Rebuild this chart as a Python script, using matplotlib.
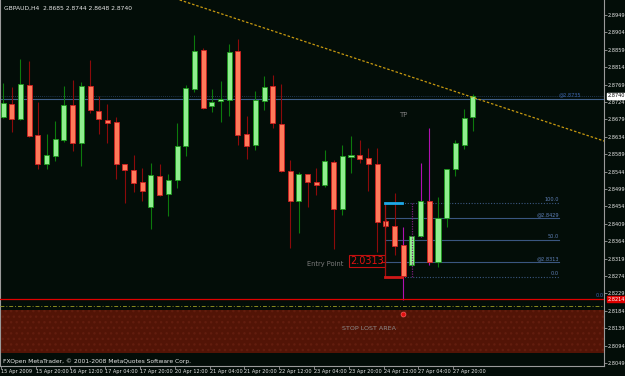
import numpy as np
import matplotlib
matplotlib.use("Agg")
from matplotlib import pyplot as plt
from matplotlib import transforms

# GBPAUD H4 bars (15 Apr 2009 -> 28 Apr 2009)
opens = [2.8685, 2.8719, 2.8681, 2.8768, 2.8639, 2.8564, 2.8584, 2.8626, 2.8717, 2.8618,
         2.8766, 2.8700, 2.8677, 2.8671, 2.8563, 2.8549, 2.8516, 2.8452, 2.8533, 2.8487,
         2.8523, 2.8611, 2.8758, 2.8859, 2.8713, 2.8726, 2.8730, 2.8855, 2.8642, 2.8612,
         2.8727, 2.8765, 2.8667, 2.8546, 2.8468, 2.8538, 2.8517, 2.8510, 2.8569, 2.8447,
         2.8582, 2.8587, 2.8579, 2.8563, 2.8415, 2.8403, 2.8354, 2.8302, 2.8378, 2.8469,
         2.8310, 2.8425, 2.8552, 2.8614, 2.8685]
highs = [2.8773, 2.8764, 2.8834, 2.8831, 2.8723, 2.8641, 2.8675, 2.8765, 2.8782, 2.8776,
         2.8832, 2.8740, 2.8718, 2.8685, 2.8564, 2.8587, 2.8553, 2.8565, 2.8564, 2.8537,
         2.8670, 2.8768, 2.8897, 2.8863, 2.8758, 2.8778, 2.8874, 2.8887, 2.8688, 2.8752,
         2.8791, 2.8794, 2.8771, 2.8573, 2.8542, 2.8538, 2.8553, 2.8600, 2.8574, 2.8613,
         2.8636, 2.8626, 2.8604, 2.8604, 2.8421, 2.8488, 2.8401, 2.8377, 2.8566, 2.8657,
         2.8478, 2.8551, 2.8626, 2.8706, 2.8744]
lows = [2.8683, 2.8646, 2.8677, 2.8633, 2.8551, 2.8551, 2.8572, 2.8621, 2.8597, 2.8559,
        2.8696, 2.8640, 2.8619, 2.8526, 2.8462, 2.8492, 2.8468, 2.8396, 2.8481, 2.8430,
        2.8502, 2.8585, 2.8751, 2.8705, 2.8698, 2.8672, 2.8688, 2.8613, 2.8577, 2.8601,
        2.8703, 2.8658, 2.8543, 2.8346, 2.8385, 2.8452, 2.8484, 2.8505, 2.8343, 2.8432,
        2.8541, 2.8565, 2.8495, 2.8337, 2.8401, 2.8327, 2.8212, 2.8300, 2.8376, 2.8302,
        2.8297, 2.8400, 2.8533, 2.8602, 2.8648]
closes = [2.8721, 2.8681, 2.8770, 2.8637, 2.8564, 2.8587, 2.8628, 2.8717, 2.8617, 2.8765,
          2.8703, 2.8679, 2.8669, 2.8563, 2.8549, 2.8515, 2.8495, 2.8534, 2.8484, 2.8521,
          2.8610, 2.8761, 2.8857, 2.8709, 2.8724, 2.8731, 2.8854, 2.8639, 2.8611, 2.8730,
          2.8764, 2.8670, 2.8546, 2.8467, 2.8537, 2.8518, 2.8510, 2.8571, 2.8448, 2.8585,
          2.8587, 2.8577, 2.8563, 2.8414, 2.8404, 2.8352, 2.8274, 2.8377, 2.8468, 2.8311,
          2.8425, 2.8551, 2.8617, 2.8682, 2.8740]
magenta_bars = [46, 48, 49]

date_labels = ["15 Apr 2009", "15 Apr 20:00", "16 Apr 12:00", "17 Apr 04:00", "17 Apr 20:00",
               "20 Apr 12:00", "21 Apr 04:00", "21 Apr 20:00", "22 Apr 12:00", "23 Apr 04:00",
               "23 Apr 20:00", "24 Apr 12:00", "27 Apr 04:00", "27 Apr 20:00"]
price_ticks = [2.8949, 2.8904, 2.8859, 2.8814, 2.8769, 2.8724, 2.8679, 2.8634, 2.8589, 2.8544,
               2.8499, 2.8454, 2.8409, 2.8364, 2.8319, 2.8274, 2.8229, 2.8184, 2.8139, 2.8094,
               2.8049]

# chart objects drawn by the trader
trend_x = [20.3, 69.1]
trend_y = [2.8988, 2.8623]
fib_start, fib_end = 43.9, 63.9
fib_levels = [2.8463, 2.8423, 2.8367, 2.8310, 2.8272]
fib_names = ["100.0", "@2.8429", "50.0", "@2.8313", "0.0"]
tp_level = 2.8732
bid = 2.8740
stop_level = 2.8214
stop_dashdot = 2.8196
stop_area = (2.8076, 2.8185)

BG = "#030d08"
AXC = "#9a9a9a"
SMALL = 3.6

fig = plt.figure(figsize=(6.25, 3.76), dpi=100, facecolor=BG)
ax = fig.add_axes([0, 10 / 376, 604 / 625, 366 / 376], facecolor=BG)
ax.set_xlim(-0.35, 69.08)
ax.set_ylim(2.80412, 2.89878)

# candles
for i in range(len(opens)):
    o, h, l, c = opens[i], highs[i], lows[i], closes[i]
    up = c >= o
    wick = "#0c7a0c" if up else "#8c0a0a"
    if i in magenta_bars:
        wick = "#b010b0"
    body = "#90ee90" if up else "#ff7a5a"
    edge = "#1c9a1c" if up else "#d02020"
    ax.vlines(i, l, h, color=wick, lw=0.8, zorder=2)
    ax.bar(i, max(abs(c - o), 0.00012), bottom=min(o, c), width=0.58,
           color=body, edgecolor=edge, lw=0.6, zorder=3)

# trend line
ax.plot(trend_x, trend_y, color="#c89a10", lw=0.9, ls=(0, (2, 1.5)), zorder=4)

# TP + bid lines
ax.axhline(tp_level, color="#3f5f88", lw=0.8, zorder=1)
ax.axhline(bid, color="#2a4466", lw=0.6, ls=(0, (1, 1.5)), zorder=1)
ax.text(66.4, tp_level + 0.0003, "@2.8735", color="#3e66b0", fontsize=SMALL, ha="right", va="bottom")
ax.text(46, 2.8690, "TP", color="#7c7c7c", fontsize=5, ha="center", va="center")

# fibo
for lvl, name in zip(fib_levels, fib_names):
    ls = (0, (1, 1.5)) if name in ("100.0", "0.0") else "-"
    ax.plot([fib_start, fib_end], [lvl, lvl], color="#3a5680", lw=0.8, ls=ls, zorder=1)
    ax.text(fib_end, lvl + 0.0002, name, color="#5f80b8", fontsize=SMALL, ha="right", va="bottom")
ax.plot([fib_start, fib_start + 2.0], [fib_levels[0], fib_levels[0]], color="#1ea8e8", lw=2, zorder=5)
ax.plot([fib_start, fib_start], [fib_levels[0], fib_levels[-1]], color="#a01010", lw=0.9, zorder=4)
ax.plot([fib_start, fib_start + 2.0], [fib_levels[-1], fib_levels[-1]], color="#d01818", lw=2, zorder=5)
ax.plot([47, 47], [fib_levels[0], fib_levels[-1]], color="#7a1a7a", lw=0.9, ls=(0, (1, 1)), zorder=4)

# entry point
ax.text(34.9, fib_levels[3] - 0.0005, "Entry Point", color="#7c7c7c", fontsize=4.8, ha="left", va="center")
ax.text(41.8, fib_levels[3] + 0.0002, "2.0313", color="#e01010", fontsize=7, ha="center", va="center",
        bbox=dict(boxstyle="square,pad=0.1", fc="none", ec="#c01010", lw=0.8))
ax.plot([43.4, fib_start], [fib_levels[3], fib_levels[3]], color="#c01010", lw=0.8)

# stop loss
ax.axhline(stop_level, color="#e00000", lw=0.9, zorder=4)
ax.axhline(stop_dashdot, color="#8a8a20", lw=0.7, ls=(0, (4, 2, 1, 2)), zorder=4)
ax.axhspan(stop_area[0], stop_area[1], facecolor="#521406", edgecolor="#621d0e",
           hatch="...", lw=0, zorder=1)
ax.text(42.1, 2.8139, "STOP LOST AREA", color="#8a8a8a", fontsize=4.6, ha="center", va="center")
ax.plot(46, 2.8176, "o", ms=3.5, mfc="#e01010", mec="#ff6060", mew=0.5, zorder=6)
ax.text(69.0, stop_level + 0.0002, "0.0", color="#3e66b0", fontsize=SMALL, ha="right", va="bottom")

# header + footer
ax.text(0.006, 0.978, "GBPAUD,H4  2.8685 2.8744 2.8648 2.8740", transform=ax.transAxes,
        color="#e8e8e8", fontsize=4.3, ha="left", va="center")
ax.text(0.005, 0.012, "FXOpen MetaTrader, \u00a9 2001-2008 MetaQuotes Software Corp.",
        transform=ax.transAxes, color="#e8e8e8", fontsize=4.3, ha="left", va="center")

# axes styling, MT4 style
ax.spines["top"].set_visible(False)
for side in ("left", "right", "bottom"):
    ax.spines[side].set_color(AXC)
    ax.spines[side].set_linewidth(0.8)
ax.yaxis.tick_right()
ax.set_yticks(price_ticks)
ax.set_yticklabels(["%.4f" % p for p in price_ticks])
ax.set_xticks(np.arange(0, 4 * len(date_labels), 4) - 0.25)
ax.set_xticklabels(date_labels, ha="left")
ax.tick_params(axis="y", colors=AXC, labelcolor="#e8e8e8", labelsize=SMALL, length=2, width=0.6, pad=0.8)
ax.tick_params(axis="x", colors=AXC, labelcolor="#e8e8e8", labelsize=SMALL, length=2, width=0.6, pad=0.5)

# current price and stop price tags on the scale
tr = transforms.blended_transform_factory(ax.transAxes, ax.transData)
ax.text(1.006, bid, "2.8740", transform=tr, fontsize=SMALL, color="black", va="center", ha="left",
        bbox=dict(boxstyle="square,pad=0.12", fc="white", ec="white"), clip_on=False, zorder=10)
ax.text(1.006, stop_level, "2.8214", transform=tr, fontsize=SMALL, color="white", va="center", ha="left",
        bbox=dict(boxstyle="square,pad=0.12", fc="#e00000", ec="#e00000"), clip_on=False, zorder=10)

fig.savefig("out.png", dpi=100, facecolor=BG)
